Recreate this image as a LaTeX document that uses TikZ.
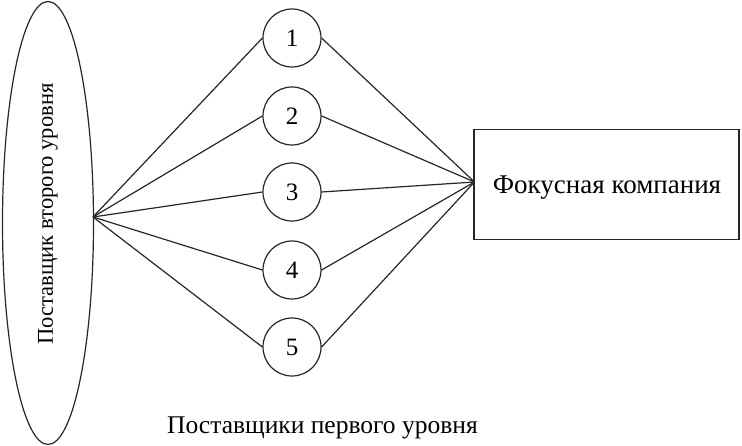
\documentclass[tikz,border=0pt]{standalone}
\usepackage{fontspec}
\setmainfont{Liberation Serif}
\usetikzlibrary{shapes.geometric}
\begin{document}
\begin{tikzpicture}[x=1pt,y=-1pt,
  line/.style={draw=black!85,line width=1.2pt},
  num/.style={circle,draw=black!85,line width=1.2pt,minimum size=58pt,inner sep=0pt,font=\fontsize{25}{30}\selectfont},
  lbl/.style={inner sep=0pt}]
\useasboundingbox (0,0) rectangle (742,446);
\node[ellipse,draw=black!85,line width=1.2pt,minimum width=91pt,minimum height=443pt,inner sep=0pt] (E) at (48,223) {};
\node[lbl,rotate=90,font=\fontsize{22.6}{27}\selectfont] (Et) at (48,214) {Поставщик второго уровня};
\coordinate (apex) at (93,217);
\node[num] (c1) at (292,38) {1};
\node[num] (c2) at (292,116) {2};
\node[num] (c3) at (292,192) {3};
\node[num] (c4) at (292,270) {4};
\node[num] (c5) at (292,347) {5};
\node[draw=black!85,line width=1.2pt,minimum width=265pt,minimum height=110pt,inner sep=0pt] (F) at (606.5,184.5) {};
\node[lbl,font=\fontsize{27}{32}\selectfont] (Ft) at (607,188) {Фокусная компания};
\coordinate (fa) at (474.5,182);
\node[lbl,font=\fontsize{25.5}{30}\selectfont] (B) at (322.5,428) {Поставщики первого уровня};
\foreach \i in {1,...,5}{
  \draw[line] (apex) -- (c\i.west);
  \draw[line] (c\i.east) -- (fa);
}
\end{tikzpicture}
\end{document}
